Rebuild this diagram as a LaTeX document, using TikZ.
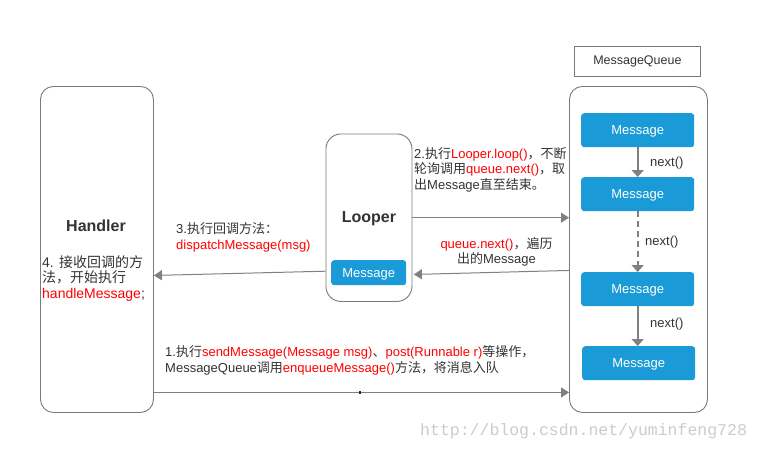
\documentclass[tikz,border=0pt]{standalone}
\usepackage{fontspec}
\setmainfont{Liberation Sans}
\newfontfamily\cjkf{Noto Sans CJK SC}
\newfontfamily\wmfont{Liberation Mono}
\usetikzlibrary{arrows.meta,calc}
\newcommand\zhx[1]{{\cjkf #1}}
\newcommand\redt[1]{\textcolor{red}{#1}}
\definecolor{msgblue}{HTML}{1A9AD6}
\definecolor{linegray}{HTML}{808080}
\definecolor{boxgray}{HTML}{7A7A7A}
\definecolor{txt}{HTML}{333333}
\begin{document}
\begin{tikzpicture}[x=1pt,y=-1pt,
  lane/.style={draw=boxgray, line width=0.9pt, rounded corners=13pt, fill=white, inner sep=0pt, anchor=north west},
  msg/.style={fill=msgblue, rounded corners=3pt, text=white, inner sep=0pt, text height=9.4pt, text depth=0pt, anchor=north west, font=\fontsize{13}{15}\selectfont},
  flow/.style={draw=linegray, line width=1pt, -{Triangle[length=8pt,width=10pt]}},
  qflow/.style={draw=linegray, line width=1.6pt, -{Triangle[length=7pt,width=12pt]}},
  lbl/.style={text=txt, font=\fontsize{13}{15.5}\selectfont, inner sep=0pt, align=left},
  title/.style={text=txt, font=\fontsize{16}{18}\selectfont\bfseries, inner sep=0pt}
]
\useasboundingbox (0,0) rectangle (760,450);
\fill[white] (0,0) rectangle (760,450);

% boxes
\node[lane, minimum width=113pt, minimum height=326pt] (handler) at (40,86) {};
\node[lane, rounded corners=15pt, minimum width=86pt, minimum height=167.5pt] (looper) at (325.5,133.5) {};
\node[lane, minimum width=138pt, minimum height=326pt] (queue) at (569,86) {};
\node[draw=boxgray, line width=0.8pt, inner sep=0pt, anchor=north west, minimum width=126pt, minimum height=29.5pt, text=txt, font=\fontsize{12.5}{14}\selectfont] (mqlabel) at (574,46) {MessageQueue};

% messages
\node[msg, minimum width=113pt, minimum height=34pt] (m1) at (581,113) {Message};
\node[msg, minimum width=113pt, minimum height=34pt] (m2) at (581,177) {Message};
\node[msg, minimum width=113pt, minimum height=34pt] (m3) at (581,272) {Message};
\node[msg, minimum width=113pt, minimum height=34pt] (m4) at (582,346) {Message};
\node[msg, minimum width=75pt, minimum height=25pt] (loopmsg) at (331,260) {Message};

% titles
\node[title] (htitle) at (96,226) {Handler};
\node[title] (ltitle) at (369,219) {Looper};

% queue arrows
\draw[qflow] (m1.south) -- (m2.north);
\draw[qflow, dash pattern=on 6pt off 4pt] (m2.south) -- (m3.north);
\draw[qflow] (m3.south) -- (m3.south |- m4.north);
\node[lbl, anchor=west] (n1) at (650,163) {next()};
\node[lbl, anchor=west] (n2) at (645,242) {next()};
\node[lbl, anchor=west] (n3) at (650,324) {next()};

% flows
\draw[flow] (looper.east) -- (queue.west |- looper.east);
\draw[flow] ($(queue.west)+(0,21)$) -- ($(looper.east)+(1.5,56.75)$);
\draw[flow] ($(looper.west)+(0,53.5)$) -- ($(handler.east)+(0,26)$);
\draw[flow] ($(handler.east)+(0,143)$) -- node[pos=0.497, fill=black!85, minimum size=2.2pt, inner sep=0pt] (dot) {} ($(queue.west)+(0,143)$);

% labels
\node[lbl, anchor=west] (t2) at (414,169.5) {2.\zhx{执行}\redt{Looper.loop()}\zhx{，不断}\\\zhx{轮询调用}\redt{queue.next()}\zhx{，取}\\\zhx{出}Message\zhx{直至结束。}};
\node[lbl, align=center] (tq) at (496.5,252) {\redt{queue.next()}\zhx{，遍历}\\\zhx{出的}Message};
\node[lbl, anchor=west] (t3) at (176,237.5) {3.\zhx{执行回调方法：}\\\redt{dispatchMessage(msg)}};
\node[lbl, anchor=west, font=\fontsize{14}{15.8}\selectfont] (t4) at (42,278.5) {4. \zhx{接收回调的方}\\\zhx{法，开始执行}\\\redt{handleMessage};};
\node[lbl, anchor=west] (t1) at (165,360.5) {1.\zhx{执行}\redt{sendMessage(Message msg)}\zhx{、}\redt{post(Runnable r)}\zhx{等操作，}\\MessageQueue\zhx{调用}\redt{enqueueMessage()}\zhx{方法，将消息入队}};

% watermark
\node[inner sep=0pt, anchor=west, text=black!20, font=\wmfont\fontsize{16.5}{18}\selectfont] (wm) at (420,431) {http://blog.csdn.net/yuminfeng728};
\end{tikzpicture}
\end{document}
